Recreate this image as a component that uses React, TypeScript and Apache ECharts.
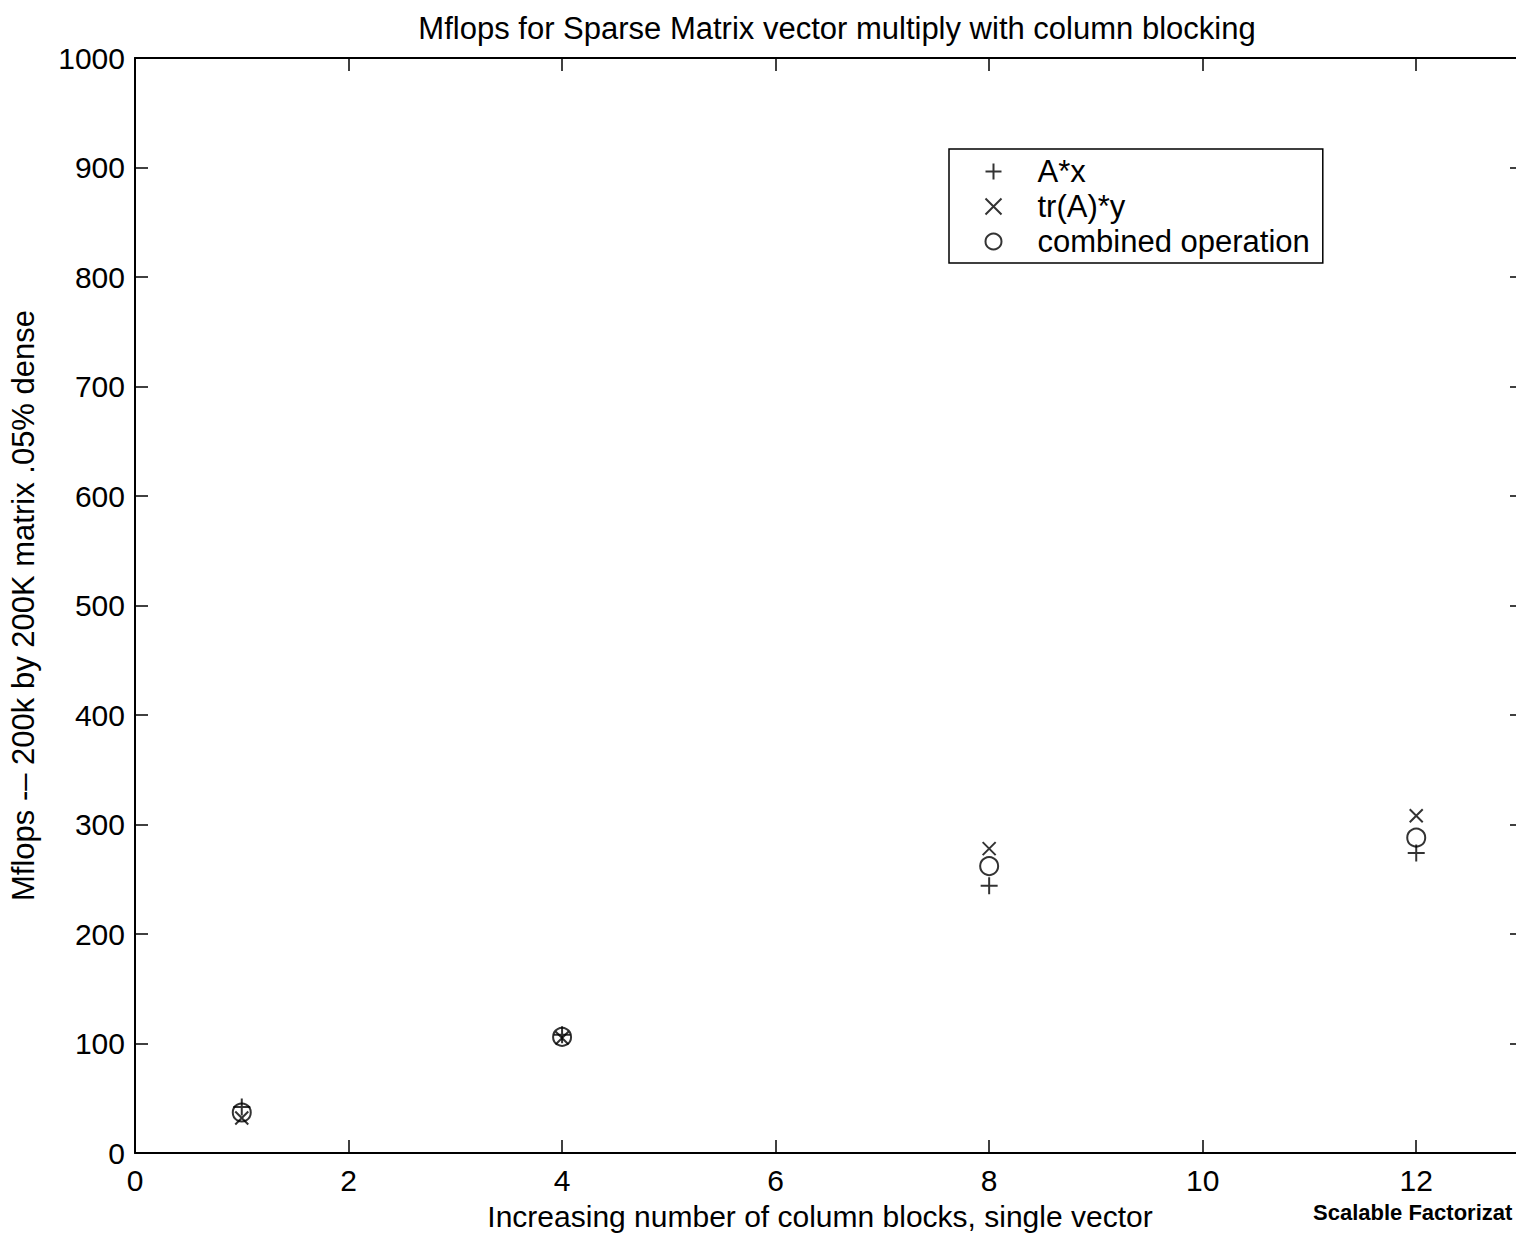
import React, { useEffect, useRef } from "react";
import * as echarts from "echarts";

const xBlocks = [1, 4, 8, 12];
const axValues = [42, 108, 244, 274];
const trAyValues = [32, 105, 278, 308];
const combinedValues = [37, 106, 262, 288];
const yTicks = [0, 100, 200, 300, 400, 500, 600, 700, 800, 900, 1000];
const xTicks = [0, 2, 4, 6, 8, 10, 12];

const FONT = "'Liberation Sans', Arial, Helvetica, sans-serif";
const PLUS = "path://M0,-8L0,8M-8,0L8,0";
const CROSS = "path://M-6,-6L6,6M-6,6L6,-6";

export default function App() {
  const ref = useRef<HTMLDivElement>(null);
  useEffect(() => {
    if (!ref.current) return;
    const chart = echarts.init(ref.current, null, { renderer: "svg" });
    const mk = (vals: number[]) => xBlocks.map((x, i) => [x, vals[i]]);
    const axisCommon = () => ({
      axisLine: { show: true, onZero: false, lineStyle: { color: "#000", width: 2 } },
      axisTick: { show: true, inside: true, length: 13, lineStyle: { color: "#000", width: 1.5 } },
      splitLine: { show: false },
    });
    const strokeStyle = { color: "none", borderColor: "#000", borderWidth: 2 };
    chart.setOption({
      animation: false,
      backgroundColor: "#fff",
      textStyle: { fontFamily: FONT },
      title: {
        text: "Mflops for Sparse Matrix vector multiply with column blocking",
        left: 832,
        top: 8,
        textAlign: "center",
        textStyle: { fontFamily: FONT, fontSize: 31, fontWeight: "normal", color: "#000" },
      },
      grid: { left: 135, top: 58, width: 1388, height: 1095, outerBoundsMode: "none", containLabel: false },
      legend: {
        orient: "vertical",
        left: 949,
        top: 149,
        padding: [7, 13, 6, 34],
        itemGap: 4,
        itemWidth: 16,
        itemHeight: 16,
        borderColor: "#000",
        borderWidth: 1.5,
        backgroundColor: "#fff",
        textStyle: { fontFamily: FONT, fontSize: 31, color: "#000", padding: [0, 0, 0, 31] },
        data: [
          { name: "A*x", icon: PLUS },
          { name: "tr(A)*y", icon: CROSS },
          { name: "combined operation", icon: "circle" },
        ],
      },
      xAxis: [
        {
          type: "value",
          min: 0,
          max: 13,
          interval: 2,
          position: "bottom",
          name: "Increasing number of column blocks, single vector",
          nameLocation: "middle",
          nameGap: 48,
          nameTextStyle: { fontFamily: FONT, fontSize: 30, color: "#000", padding: [0, 18, 0, 0] },
          axisLabel: {
            fontFamily: FONT,
            fontSize: 30,
            color: "#000",
            margin: 12,
            formatter: (v: number) => (xTicks.includes(v) ? String(v) : ""),
          },
          ...axisCommon(),
        },
        {
          type: "value",
          min: 0,
          max: 13,
          interval: 2,
          position: "top",
          axisLabel: { show: false },
          ...axisCommon(),
        },
      ],
      yAxis: [
        {
          type: "value",
          min: 0,
          max: 1000,
          interval: 100,
          position: "left",
          name: "Mflops -– 200k by 200K matrix .05% dense",
          nameLocation: "middle",
          nameGap: 96,
          nameTextStyle: { fontFamily: FONT, fontSize: 31, color: "#000" },
          axisLabel: {
            fontFamily: FONT,
            fontSize: 30,
            color: "#000",
            margin: 10,
            formatter: (v: number) => (yTicks.includes(v) ? String(v) : ""),
          },
          ...axisCommon(),
        },
        {
          type: "value",
          min: 0,
          max: 1000,
          interval: 100,
          position: "right",
          axisLabel: { show: false },
          ...axisCommon(),
        },
      ],
      graphic: [
        {
          type: "text",
          left: 1313,
          top: 1201,
          style: {
            text: "Scalable Factorizat",
            fontFamily: FONT,
            fontSize: 22,
            fontWeight: "bold",
            fill: "#000",
          },
        },
      ],
      series: [
        {
          name: "A*x",
          type: "scatter",
          symbol: PLUS,
          symbolSize: 17,
          itemStyle: strokeStyle,
          data: mk(axValues),
        },
        {
          name: "tr(A)*y",
          type: "scatter",
          symbol: CROSS,
          symbolSize: 13,
          itemStyle: strokeStyle,
          data: mk(trAyValues),
        },
        {
          name: "combined operation",
          type: "scatter",
          symbol: "circle",
          symbolSize: 18,
          itemStyle: { color: "none", borderColor: "#000", borderWidth: 2 },
          data: mk(combinedValues),
        },
      ],
    });
    return () => chart.dispose();
  }, []);
  return (
    <div
      ref={ref}
      style={{ position: "fixed", left: 0, top: 0, width: 1516, height: 1235, background: "#fff" }}
    />
  );
}
